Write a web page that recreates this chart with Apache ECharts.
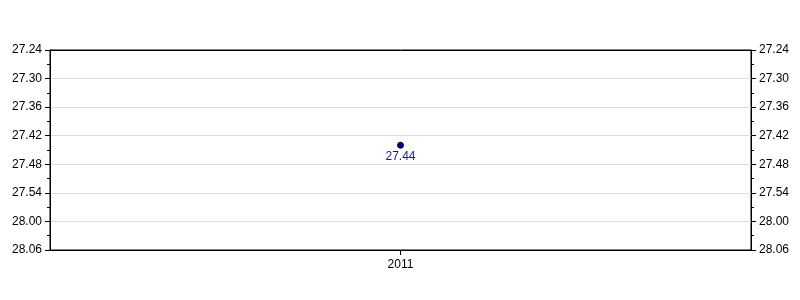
<!DOCTYPE html>
<html>
<head>
<meta charset="utf-8">
<script src="https://cdn.jsdelivr.net/npm/echarts@6/dist/echarts.min.js"></script>
<style>html,body{margin:0;padding:0;background:#fff;}#c{width:800px;height:300px;}</style>
</head>
<body>
<div id="c"></div>
<script>
const categories = ['2011'];
const times = [27.44];           // minutes.seconds
const axisMin = 27.24, axisMax = 28.06, stepSeconds = 6;

function toSec(v){ const m = Math.floor(v); return m*60 + Math.round((v-m)*100); }
function fmt(s){ const m = Math.floor(s/60); const r = Math.round(s - m*60); return m + '.' + (r<10?'0':'') + r; }

const FONT = 'Liberation Sans';
const yBase = {
  type: 'value', inverse: true,
  min: toSec(axisMin), max: toSec(axisMax), interval: stepSeconds,
  axisLine: { show: true, lineStyle: { color: '#000', width: 1 } },
  axisTick: { show: true, length: 5, lineStyle: { color: '#000' } },
  minorTick: { show: true, splitNumber: 2, length: 3, lineStyle: { color: '#000' } },
  splitLine: { show: true, lineStyle: { color: '#dcdcdc', width: 1 } },
  axisLabel: { color: '#000', fontFamily: FONT, fontSize: 12, margin: 8, formatter: v => fmt(v) }
};

const chart = echarts.init(document.getElementById('c'), null, { renderer: 'canvas' });
chart.setOption({
  animation: false,
  grid: { left: 50, right: 49, top: 50, bottom: 50, show: true, borderColor: '#000', borderWidth: 1, backgroundColor: 'transparent' },
  xAxis: [{
    type: 'category', data: categories, boundaryGap: true, position: 'bottom',
    axisLine: { lineStyle: { color: '#000' } },
    axisTick: { show: true, alignWithLabel: true, length: 5, lineStyle: { color: '#000' } },
    axisLabel: { color: '#000', fontFamily: FONT, fontSize: 12, margin: 9 },
    splitLine: { show: false }
  }, {
    type: 'category', data: categories, boundaryGap: true, position: 'top',
    axisLine: { lineStyle: { color: '#000' } },
    axisTick: { show: false }, axisLabel: { show: false }, splitLine: { show: false }
  }],
  yAxis: [
    Object.assign({}, yBase, { position: 'left' }),
    Object.assign({}, yBase, { position: 'right', splitLine: { show: false } })
  ],
  series: [{
    type: 'line', yAxisIndex: 0,
    data: times.map(toSec),
    symbol: 'circle', symbolSize: 6,
    itemStyle: { color: '#000080', borderColor: '#000040', borderWidth: 1 },
    lineStyle: { color: '#000080' },
    label: { show: true, position: 'bottom', distance: 2, color: '#1a1a9a', fontFamily: FONT, fontSize: 12, formatter: p => fmt(p.value) }
  }]
});
</script>
</body>
</html>
